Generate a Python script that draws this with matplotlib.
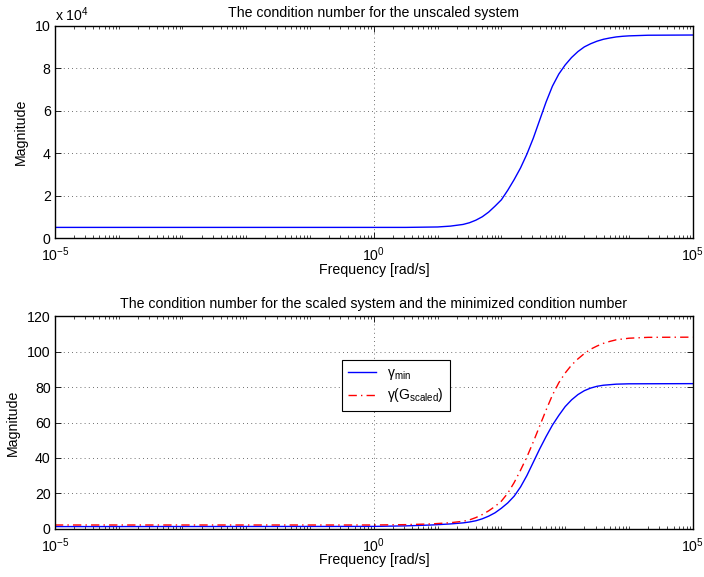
import numpy as np
import matplotlib
matplotlib.use('Agg')
import matplotlib.pyplot as plt
from matplotlib.ticker import FixedLocator, LogLocator, NullFormatter, FuncFormatter

plt.rcParams['font.family'] = ['Liberation Sans', 'DejaVu Sans']
plt.rcParams['mathtext.fontset'] = 'custom'
plt.rcParams['mathtext.rm'] = 'Liberation Sans'
plt.rcParams['mathtext.it'] = 'Liberation Sans:italic'
plt.rcParams['mathtext.default'] = 'regular'
plt.rcParams['font.size'] = 10.2

# condition number of the unscaled plant (log10 of frequency, magnitude)
logw_unscaled = [-5, 0, 0.5, 1.0, 1.2, 1.4, 1.5, 1.6, 1.7, 1.8, 1.9, 2.0, 2.1, 2.2, 2.3,
                 2.4, 2.5, 2.6, 2.7, 2.8, 2.9, 3.0, 3.1, 3.2, 3.3, 3.4, 3.5, 3.6, 3.7,
                 3.8, 3.9, 4.0, 4.3, 5]
gamma_unscaled = [5000, 5000, 5000, 5200, 5600, 6400, 7200, 8400, 10000, 12200, 15000,
                  18000, 22500, 27500, 33000, 39500, 47000, 55500, 64000, 71500, 77200,
                  81500, 85000, 87800, 90000, 91500, 92700, 93600, 94200, 94700, 95000,
                  95200, 95500, 95600]

# minimized condition number
logw_min = [-5, 0, 0.5, 0.9, 1.2, 1.4, 1.5, 1.6, 1.7, 1.8, 1.9, 2.0, 2.1, 2.2, 2.3, 2.4,
            2.5, 2.6, 2.7, 2.8, 2.9, 3.0, 3.1, 3.2, 3.3, 3.4, 3.5, 3.6, 3.8, 4.0, 5]
gamma_min = [1.1, 1.2, 1.5, 2.0, 2.6, 3.2, 3.7, 4.4, 5.5, 7.0, 8.9, 11.5, 14.5, 18.3,
             23.5, 30, 37.5, 45, 52, 58.5, 64, 69, 72.8, 75.8, 78, 79.5, 80.5, 81.1,
             81.7, 81.9, 82]

# condition number of the scaled plant
logw_scaled = [-5, 0, 0.5, 0.9, 1.2, 1.4, 1.5, 1.6, 1.7, 1.8, 1.9, 2.0, 2.1, 2.2, 2.3,
               2.4, 2.5, 2.6, 2.7, 2.8, 2.9, 3.0, 3.1, 3.2, 3.3, 3.4, 3.5, 3.6, 3.7,
               3.8, 4.0, 4.3, 5]
gamma_scaled = [2.0, 2.0, 2.2, 2.6, 3.3, 4.1, 4.9, 6.2, 7.9, 10.0, 12.5, 15.5, 20, 26,
                33, 40.5, 49, 58, 67, 75.5, 82.5, 88, 92.5, 96, 99, 101.5, 103.3, 104.8,
                105.9, 106.8, 107.7, 108.2, 108.3]

xticks = [1e-5, 1e0, 1e5]
yticks_top = [0, 20000, 40000, 60000, 80000, 100000]
yticks_bottom = [0, 20, 40, 60, 80, 100, 120]


def style_axes(ax):
    ax.set_xscale('log')
    ax.set_xlim(1e-5, 1e5)
    ax.xaxis.set_major_locator(FixedLocator(xticks))
    ax.xaxis.set_minor_locator(LogLocator(base=10, subs=np.arange(1, 10), numticks=100))
    ax.xaxis.set_minor_formatter(NullFormatter())
    ax.tick_params(which='both', direction='in', top=True, right=True)
    ax.tick_params(which='major', length=4, width=0.6, pad=3)
    ax.tick_params(axis='x', which='major', pad=5.5)
    ax.tick_params(which='minor', length=2, width=0.5)
    for s in ax.spines.values():
        s.set_linewidth(1.0)
    ax.grid(True, which='major', color='0.25', linestyle=(0, (1, 4)), linewidth=0.6)
    ax.set_xlabel('Frequency [rad/s]', labelpad=-1)
    ax.set_ylabel('Magnitude', labelpad=5)


fig = plt.figure(figsize=(7.04, 5.77), dpi=100)
ax1 = fig.add_axes([0.078, 0.5875, 0.906, 0.368])
ax2 = fig.add_axes([0.078, 0.084, 0.906, 0.3675])

ax1.plot(10.0 ** np.array(logw_unscaled), gamma_unscaled, color='b', linewidth=1.0)
style_axes(ax1)
ax1.set_ylim(0, 100000)
ax1.yaxis.set_major_locator(FixedLocator(yticks_top))
ax1.yaxis.set_major_formatter(FuncFormatter(lambda v, p: '%g' % (v / 1e4)))
ax1.text(0.0, 1.01, r'x 10$^{4}$', transform=ax1.transAxes, ha='left', va='bottom')
ax1.set_title('The condition number for the unscaled system', pad=6, fontsize=10.2)

ax2.plot(10.0 ** np.array(logw_min), gamma_min, color='b', linewidth=1.0,
         label=r'γ$_{min}$')
ax2.plot(10.0 ** np.array(logw_scaled), gamma_scaled, color='r', linewidth=1.0,
         linestyle=(0, (6, 3, 1, 3)), label=r'γ(G$_{scaled}$)')
style_axes(ax2)
ax2.set_ylim(0, 120)
ax2.yaxis.set_major_locator(FixedLocator(yticks_bottom))
ax2.set_title('The condition number for the scaled system and the minimized condition number',
              pad=6, fontsize=10.2)
leg = ax2.legend(loc='upper left', bbox_to_anchor=(0.45, 0.795), borderaxespad=0,
                 fancybox=False, framealpha=1, edgecolor='k', handlelength=2.0,
                 labelspacing=0.3, borderpad=0.45, fontsize=10)
leg.get_frame().set_linewidth(0.8)

fig.savefig('out.png', dpi=100)
